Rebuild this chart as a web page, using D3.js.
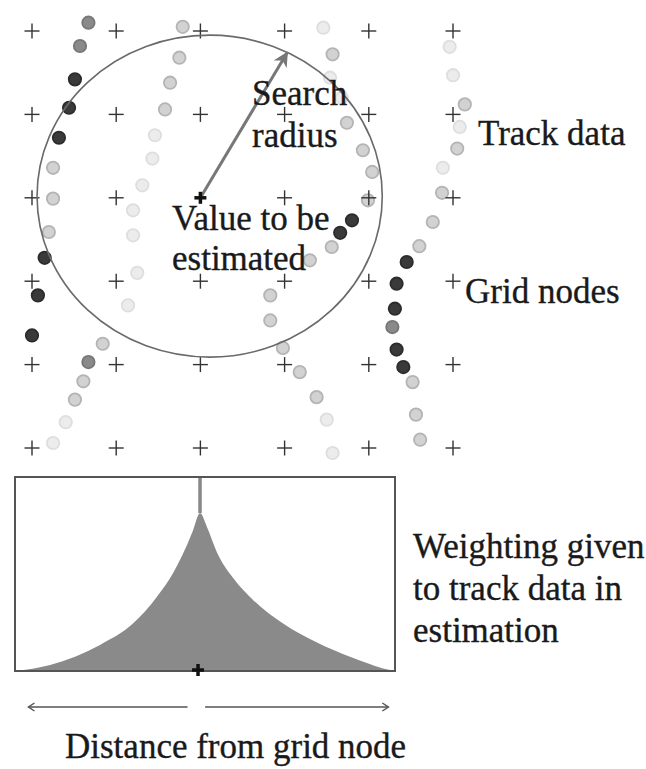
<!DOCTYPE html>
<html lang="en">
  <head>
    <meta charset="utf-8" />
    <title>Search radius weighting</title>
    <script type="text/javascript" src="https://cdn.jsdelivr.net/npm/d3@7"></script>
    <style type="text/css">
      body { margin: 0; background: #fff; }
      text { font-family: "Liberation Serif", "Times New Roman", serif; fill: #1a1a1a; stroke: #1a1a1a; stroke-width: 0.35px; }
    </style>
  </head>
  <body>
    <script type="text/javascript">
      // grid nodes, in map units (0..50)
      var gridX = [0, 10, 20, 30, 40, 50];
      var gridY = [0, 10, 20, 30, 40, 50];
      var estNode = [20, 20];

      // track data: [x, y, shade] shade 1 dark .. 4 very light
      var trackA = [
        [6.7, -1.0, 2], [5.7, 1.8, 2], [5.1, 5.8, 1], [4.4, 9.2, 1], [3.2, 12.8, 1],
        [2.5, 16.4, 3], [2.5, 20.1, 3], [2.0, 24.1, 3], [1.5, 27.2, 1], [0.7, 31.7, 1],
        [0.0, 36.5, 1]
      ];
      var trackB = [
        [17.9, -0.5, 3], [17.5, 3.2, 3], [16.4, 6.2, 3], [15.8, 9.4, 3], [14.6, 12.5, 4],
        [14.3, 15.3, 4], [13.1, 18.5, 4], [12.0, 21.5, 4], [12.0, 24.5, 4], [12.5, 29.0, 4],
        [11.4, 32.9, 4], [8.4, 37.5, 3], [6.7, 39.7, 2], [6.1, 42.0, 3], [5.1, 44.2, 3],
        [4.0, 46.9, 4], [2.5, 49.4, 4]
      ];
      var trackC = [
        [34.6, -0.4, 4], [35.7, 2.8, 3], [35.4, 5.6, 4], [36.8, 8.0, 4], [37.4, 11.0, 3],
        [39.3, 14.3, 3], [40.4, 16.9, 3], [39.9, 20.3, 3], [38.0, 22.7, 1], [36.6, 24.2, 1],
        [35.6, 25.9, 3], [33.0, 27.5, 3], [28.3, 31.7, 3], [28.3, 34.7, 3], [29.8, 38.0, 3],
        [31.8, 40.9, 3], [33.8, 43.9, 3], [35.0, 46.6, 4], [35.7, 50.6, 4]
      ];
      var trackD = [
        [49.6, 1.9, 4], [50.0, 5.3, 4], [51.4, 8.8, 3], [50.8, 11.5, 4], [50.5, 14.1, 3],
        [48.8, 16.4, 4], [48.7, 19.4, 3], [47.6, 22.9, 3], [46.0, 25.8, 3], [44.5, 27.7, 1],
        [43.3, 30.3, 1], [43.1, 33.3, 1], [42.8, 35.5, 2], [43.3, 38.2, 1], [44.1, 40.3, 1],
        [45.2, 42.1, 3], [45.6, 46.0, 3], [46.1, 49.0, 3]
      ];

      // search ellipse (centre, radii) and arrow tip, map units
      var searchCentre = [21.1, 19.8];
      var searchRadius = [20.5, 19.3];
      var arrowTip = [30.3, 2.6];

      // weighting profile: distance from node (radius ~ 1) and weight
      var distance = [-0.949, -0.769, -0.513, -0.344, -0.221, -0.138, -0.077, -0.036, 0,
        0.036, 0.087, 0.169, 0.272, 0.426, 0.6, 0.769, 0.87, 0.95, 1];
      var weight = [0, 0.038, 0.165, 0.3, 0.47, 0.62, 0.77, 0.89, 1,
        0.91, 0.75, 0.59, 0.45, 0.3, 0.18, 0.09, 0.045, 0.012, 0];

      var w = 646;
      var h = 769;

      var fills = { 1: "#3a3a3a", 2: "#8a8a8a", 3: "#d2d2d2", 4: "#ececec" };
      var strokes = { 1: "#2c2c2c", 2: "#777", 3: "#b4b4b4", 4: "#dedede" };

      var svg = d3.select("body").append("svg").attr("width", w).attr("height", h);

      var x = d3.scaleLinear().domain([0, 50]).range([32, 453]);
      var y = d3.scaleLinear().domain([0, 50]).range([31, 448]);

      // grid nodes
      var nodes = [];
      gridY.forEach(function (gy) {
        gridX.forEach(function (gx) {
          nodes.push([gx, gy]);
        });
      });

      function plus(g, cx, cy, s, sw, col) {
        g.append("line").attr("x1", cx - s).attr("x2", cx + s).attr("y1", cy).attr("y2", cy)
          .attr("stroke", col).attr("stroke-width", sw);
        g.append("line").attr("x1", cx).attr("x2", cx).attr("y1", cy - s).attr("y2", cy + s)
          .attr("stroke", col).attr("stroke-width", sw);
      }

      // track dots
      var tracks = [trackA, trackB, trackC, trackD];
      var dots = [];
      tracks.forEach(function (t) { dots = dots.concat(t); });
      dots.sort(function (a, b) { return b[2] - a[2]; });

      svg.append("g").selectAll("circle").data(dots).enter().append("circle")
        .attr("cx", function (d) { return x(d[0]); })
        .attr("cy", function (d) { return y(d[1]); })
        .attr("r", 6.2)
        .attr("fill", function (d) { return fills[d[2]]; })
        .attr("stroke", function (d) { return strokes[d[2]]; })
        .attr("stroke-width", 1.8);

      var gNodes = svg.append("g");
      nodes.forEach(function (n) {
        if (n[0] === estNode[0] && n[1] === estNode[1]) return;
        plus(gNodes, x(n[0]), y(n[1]), 7.5, 1.4, "#333");
      });

      // search ellipse
      svg.append("ellipse")
        .attr("cx", x(searchCentre[0]))
        .attr("cy", y(searchCentre[1]))
        .attr("rx", x(searchCentre[0] + searchRadius[0]) - x(searchCentre[0]))
        .attr("ry", y(searchCentre[1] + searchRadius[1]) - y(searchCentre[1]))
        .attr("fill", "none")
        .attr("stroke", "#6a6a6a")
        .attr("stroke-width", 1.6);

      // search radius arrow
      svg.append("defs").append("marker")
        .attr("id", "head")
        .attr("viewBox", "0 0 10 10")
        .attr("refX", 9).attr("refY", 5)
        .attr("markerWidth", 5).attr("markerHeight", 5)
        .attr("orient", "auto")
        .append("path")
        .attr("d", "M0,0 L10,5 L0,10 L3,5 Z")
        .attr("fill", "#777");

      svg.append("line")
        .attr("x1", x(estNode[0])).attr("y1", y(estNode[1]))
        .attr("x2", x(arrowTip[0])).attr("y2", y(arrowTip[1]))
        .attr("stroke", "#777").attr("stroke-width", 3)
        .attr("marker-end", "url(#head)");

      plus(svg, x(estNode[0]), y(estNode[1]), 6, 3.5, "#111");

      // labels
      var labels = [
        { t: "Search", x: 252, y: 105 },
        { t: "radius", x: 252, y: 147 },
        { t: "Value to be", x: 172, y: 230 },
        { t: "estimated", x: 172, y: 270 },
        { t: "Track data", x: 478, y: 145 },
        { t: "Grid nodes", x: 465, y: 303 },
        { t: "Weighting given", x: 413, y: 558 },
        { t: "to track data in", x: 413, y: 600 },
        { t: "estimation", x: 413, y: 642 },
        { t: "Distance from grid node", x: 65, y: 758 }
      ];
      svg.append("g").selectAll("text").data(labels).enter().append("text")
        .attr("x", function (d) { return d.x; })
        .attr("y", function (d) { return d.y; })
        .attr("font-size", "35px")
        .text(function (d) { return d.t; });

      // weighting panel
      var px = d3.scaleLinear().domain([-0.949, 1]).range([15, 395]);
      var py = d3.scaleLinear().domain([0, 1.228]).range([671, 477]);

      var prof = distance.map(function (d, i) { return [d, weight[i]]; });

      svg.append("path")
        .datum(prof)
        .attr("d", d3.area()
          .x(function (d) { return px(d[0]); })
          .y0(py(0))
          .y1(function (d) { return py(d[1]); })
          .curve(d3.curveMonotoneX))
        .attr("fill", "#8a8a8a");

      svg.append("line")
        .attr("x1", px(0)).attr("x2", px(0))
        .attr("y1", py(1)).attr("y2", py(1.228))
        .attr("stroke", "#888").attr("stroke-width", 3.5);

      svg.append("rect")
        .attr("x", px(-0.949)).attr("y", py(1.228))
        .attr("width", px(1) - px(-0.949))
        .attr("height", py(0) - py(1.228))
        .attr("fill", "none")
        .attr("stroke", "#555")
        .attr("stroke-width", 2);

      plus(svg, px(0) - 2, py(0) - 1, 6, 3.5, "#111");

      // distance arrows
      var ya = 707;
      function arrow(x1, x2) {
        var dir = x2 > x1 ? -1 : 1;
        svg.append("line").attr("x1", x1).attr("x2", x2).attr("y1", ya).attr("y2", ya)
          .attr("stroke", "#555").attr("stroke-width", 1.5);
        svg.append("path")
          .attr("d", "M" + (x2 + dir * 6) + "," + (ya - 4) + " L" + x2 + "," + ya + " L" + (x2 + dir * 6) + "," + (ya + 4))
          .attr("fill", "none").attr("stroke", "#555").attr("stroke-width", 1.5);
      }
      arrow(px(-0.064), px(-0.88));
      arrow(px(0.026), px(0.966));
    </script>
  </body>
</html>
